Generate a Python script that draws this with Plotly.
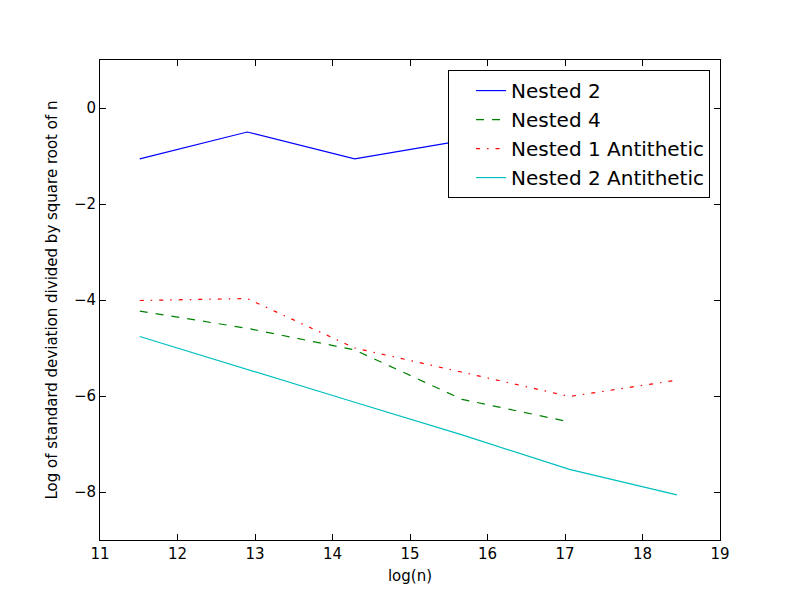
import plotly.graph_objects as go

log_n = [11.513, 12.899, 14.286, 15.672, 17.058, 18.444]

nested_2 = [-1.06, -0.50, -1.06, -0.68, -0.90, -0.75]
nested_4 = [-4.23, -4.59, -5.04, -6.07, -6.54]
nested_1_anti = [-4.01, -3.97, -5.00, -5.50, -6.01, -5.67]
nested_2_anti = [-4.76, -5.45, -6.13, -6.81, -7.53, -8.06]

fig = go.Figure()
fig.add_trace(go.Scatter(x=log_n, y=nested_2, mode="lines", name="Nested 2",
                         line=dict(color="#0000ff", width=1.2)))
fig.add_trace(go.Scatter(x=log_n[:len(nested_4)], y=nested_4, mode="lines", name="Nested 4",
                         line=dict(color="#008000", width=1.2, dash="8px,8px")))
fig.add_trace(go.Scatter(x=log_n, y=nested_1_anti, mode="lines", name="Nested 1 Antithetic",
                         line=dict(color="#ff0000", width=1.2, dash="4px,7px,1.5px,7px")))
fig.add_trace(go.Scatter(x=log_n, y=nested_2_anti, mode="lines", name="Nested 2 Antithetic",
                         line=dict(color="#00bfbf", width=1.2)))

axis_common = dict(showgrid=False, zeroline=False, showline=True, linecolor="black",
                   linewidth=1, mirror="ticks", ticks="inside", ticklen=6,
                   tickcolor="black", tickfont=dict(size=15, color="black"))

fig.update_layout(
    width=792, height=592,
    margin=dict(l=92, r=80, t=52, b=60),
    paper_bgcolor="white", plot_bgcolor="white",
    font=dict(family="DejaVu Sans", color="black"),
    xaxis=dict(range=[11, 19], tickvals=[11, 12, 13, 14, 15, 16, 17, 18, 19],
               title=dict(text="log(n)", font=dict(size=15), standoff=8), **axis_common),
    yaxis=dict(range=[-9, 1], tickvals=[-8, -6, -4, -2, 0],
               ticktext=["\u22128", "\u22126", "\u22124", "\u22122", "0"],
               title=dict(text="Log of standard deviation divided by square root of n",
                          font=dict(size=15), standoff=12), **axis_common),
    legend=dict(x=0.984, y=0.979, xanchor="right", yanchor="top",
                bgcolor="white", bordercolor="black", borderwidth=1,
                font=dict(size=20), tracegroupgap=0, itemwidth=30, indentation=22),
    showlegend=True,
)

fig.write_html("out.html")
